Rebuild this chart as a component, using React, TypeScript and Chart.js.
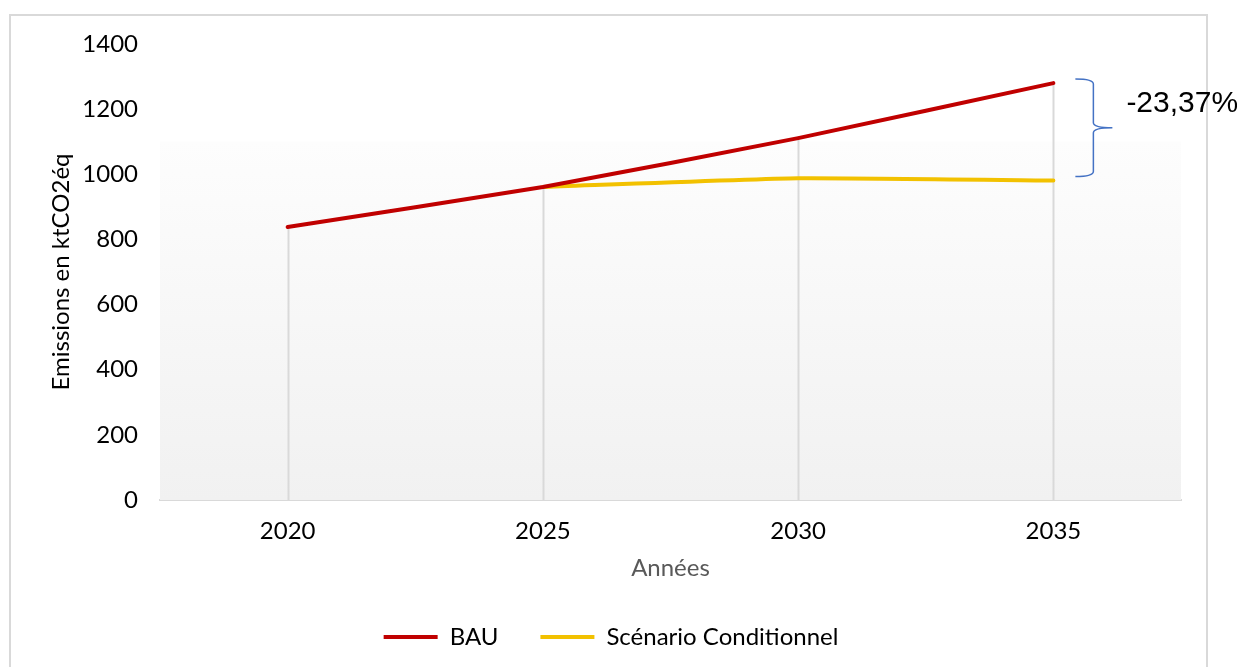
import React, { useEffect, useRef } from "react";
import { Chart, registerables } from "chart.js";

Chart.register(...registerables);

const years = ["2020", "2025", "2030", "2035"];
const bauValues = [838, 961, 1111, 1280];
const conditionnelValues: (number | null)[] = [null, 961, 988, 981];
const yTicks = [0, 200, 400, 600, 800, 1000, 1200, 1400];
const reductionLabel = "-23,37%";

const FONT = "Lato, 'Noto Sans', sans-serif";

const backgroundPlugin = {
  id: "plotBackground",
  beforeDatasetsDraw(chart: any) {
    const { ctx, chartArea, scales } = chart;
    const y = scales.y;
    const x = scales.x;
    const top = y.getPixelForValue(1100);
    const bottom = chartArea.bottom;
    ctx.save();
    const g = ctx.createLinearGradient(0, top, 0, bottom);
    g.addColorStop(0, "#fdfdfd");
    g.addColorStop(1, "#f1f1f1");
    ctx.fillStyle = g;
    ctx.fillRect(chartArea.left, top, chartArea.right - chartArea.left, bottom - top);
    ctx.strokeStyle = "#d9d9d9";
    ctx.lineWidth = 2;
    years.forEach((_, i) => {
      const vals = chart.data.datasets
        .map((d: any) => d.data[i])
        .filter((v: any) => v !== null && v !== undefined);
      if (!vals.length) return;
      const maxV = Math.max(...vals);
      const px = Math.round(x.getPixelForValue(i)) + 0.5;
      ctx.beginPath();
      ctx.moveTo(px, y.getPixelForValue(maxV));
      ctx.lineTo(px, bottom);
      ctx.stroke();
    });
    ctx.restore();
  },
};

const bracePlugin = {
  id: "brace",
  afterDatasetsDraw(chart: any) {
    const { ctx, scales } = chart;
    const x = scales.x;
    const y = scales.y;
    const last = years.length - 1;
    const xp = x.getPixelForValue(last);
    const top = y.getPixelForValue(bauValues[last]) - 4;
    const bottom = y.getPixelForValue(conditionnelValues[last] as number) - 4;
    const mid = (top + bottom) / 2;
    const x0 = xp + 22;
    const x1 = xp + 40;
    const x2 = xp + 59;
    const r = 5;
    ctx.save();
    ctx.strokeStyle = "#4472C4";
    ctx.lineWidth = 1.5;
    ctx.beginPath();
    ctx.moveTo(x0, top);
    ctx.quadraticCurveTo(x1, top, x1, top + r);
    ctx.lineTo(x1, mid - r);
    ctx.quadraticCurveTo(x1, mid, x2, mid);
    ctx.moveTo(x2, mid);
    ctx.quadraticCurveTo(x1, mid, x1, mid + r);
    ctx.lineTo(x1, bottom - r);
    ctx.quadraticCurveTo(x1, bottom, x0, bottom);
    ctx.stroke();
    ctx.fillStyle = "#000";
    ctx.font = "30px 'Liberation Sans', Arial, sans-serif";
    ctx.textBaseline = "alphabetic";
    ctx.textAlign = "left";
    ctx.fillText(reductionLabel, xp + 73, top + 33);
    ctx.restore();
  },
};

export default function App() {
  const ref = useRef<HTMLCanvasElement>(null);
  useEffect(() => {
    if (!ref.current) return;
    const chart = new Chart(ref.current, {
      type: "line",
      data: {
        labels: years,
        datasets: [
          {
            label: "BAU",
            data: bauValues,
            borderColor: "#C00000",
            backgroundColor: "#C00000",
            borderWidth: 4,
            borderCapStyle: "round",
            pointRadius: 0,
            tension: 0.15,
            fill: false,
          },
          {
            label: "Scénario Conditionnel",
            data: conditionnelValues,
            borderColor: "#F2C100",
            backgroundColor: "#F2C100",
            borderWidth: 4,
            borderCapStyle: "round",
            pointRadius: 0,
            tension: 0.15,
            fill: false,
          },
        ],
      },
      options: {
        responsive: false,
        animation: false,
        layout: { padding: { left: 41, right: 56, top: 44, bottom: 8 } },
        plugins: {
          tooltip: { enabled: false },
          legend: {
            position: "bottom",
            labels: {
              usePointStyle: true,
              pointStyle: "line",
              pointStyleWidth: 54,
              padding: 42,
              color: "#000",
              font: { family: FONT, size: 24 },
            },
          },
        },
        scales: {
          x: {
            type: "category",
            offset: true,
            grid: { display: false, drawTicks: false },
            border: { display: true, color: "#d9d9d9", width: 2 },
            ticks: { color: "#000", padding: 17, font: { family: FONT, size: 24 } },
            title: {
              display: true,
              text: "Années",
              color: "#595959",
              padding: { top: 0, bottom: 0 },
              font: { family: FONT, size: 24 },
            },
            afterFit: (s: any) => {
              s.height = 83;
            },
          },
          y: {
            min: 0,
            max: 1400,
            afterBuildTicks: (s: any) => {
              s.ticks = yTicks.map((v) => ({ value: v }));
            },
            grid: { display: false, drawTicks: false },
            border: { display: false },
            ticks: {
              color: "#000",
              padding: 22,
              font: { family: FONT, size: 24 },
              callback: (v: any) => String(v),
            },
            title: {
              display: true,
              text: "Emissions en ktCO2éq",
              color: "#000",
              padding: { top: 6, bottom: 0 },
              font: { family: FONT, size: 24 },
            },
            afterFit: (s: any) => {
              s.width = 119;
            },
          },
        },
      },
      plugins: [backgroundPlugin, bracePlugin],
    });
    return () => chart.destroy();
  }, []);

  return (
    <div style={{ position: "fixed", left: 0, top: 0, width: 1237, height: 667, background: "#fff", overflow: "hidden" }}>
      <div
        style={{
          position: "absolute",
          left: 9,
          top: 14,
          width: 1199,
          height: 700,
          border: "2px solid #d9d9d9",
          boxSizing: "border-box",
        }}
      />
      <canvas ref={ref} width={1237} height={667} style={{ position: "absolute", left: 0, top: 0 }} />
    </div>
  );
}
